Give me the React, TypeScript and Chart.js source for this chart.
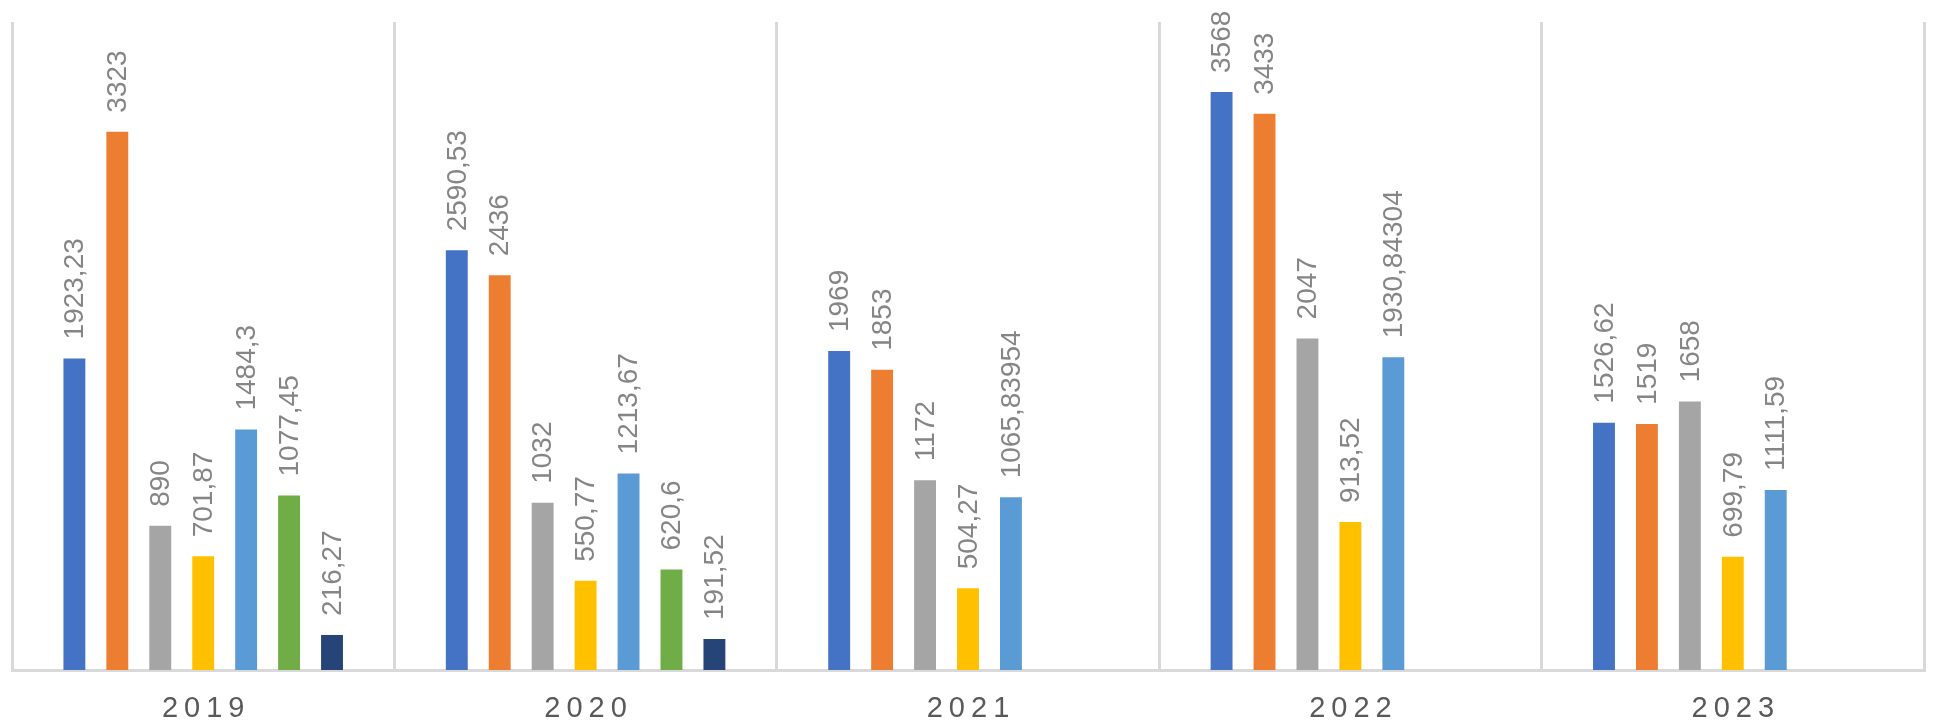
import React, { useEffect, useRef } from "react";
import { Chart, registerables } from "chart.js";

Chart.register(...registerables);

const categories = ["2019", "2020", "2021", "2022", "2023"];
const series1 = [1923.23, 2590.53, 1969, 3568, 1526.62];
const series2 = [3323, 2436, 1853, 3433, 1519];
const series3 = [890, 1032, 1172, 2047, 1658];
const series4 = [701.87, 550.77, 504.27, 913.52, 699.79];
const series5 = [1484.3, 1213.67, 1065.83954, 1930.84304, 1111.59];
const series6 = [1077.45, 620.6, null, null, null];
const series7 = [216.27, 191.52, null, null, null];
const yMax = 4000;

const colors = ["#4472C4", "#ED7D31", "#A5A5A5", "#FFC000", "#5B9BD5", "#70AD47", "#264478"];

const fmt = (v: number) => String(v).replace(".", ",");

const labelPlugin = {
  id: "customLabels",
  afterDatasetsDraw(chart: any) {
    const ctx = chart.ctx;
    ctx.save();
    ctx.font = "28px 'Liberation Sans'";
    ctx.fillStyle = "#858585";
    ctx.textAlign = "left";
    ctx.textBaseline = "middle";
    chart.data.datasets.forEach((ds: any, di: number) => {
      const meta = chart.getDatasetMeta(di);
      meta.data.forEach((el: any, i: number) => {
        const v = ds.data[i];
        if (v === null || v === undefined) return;
        ctx.save();
        ctx.translate(el.x, el.y - 19);
        ctx.rotate(-Math.PI / 2);
        ctx.fillText(fmt(v), 0, 1);
        ctx.restore();
      });
    });
    // category labels
    const xs = chart.scales.x;
    ctx.font = "29px 'Liberation Sans'";
    ctx.fillStyle = "#595959";
    ctx.textAlign = "center";
    ctx.textBaseline = "middle";
    const sp = 6;
    (ctx as any).letterSpacing = sp + "px";
    categories.forEach((c, i) => {
      const x = xs.getPixelForValue(i);
      ctx.fillText(c, x + sp / 2, 709);
    });
    ctx.restore();
  },
};

export default function App() {
  const ref = useRef<HTMLCanvasElement | null>(null);
  useEffect(() => {
    document.body.style.margin = "0";
    const seriesList = [series1, series2, series3, series4, series5, series6, series7];
    const chart = new Chart(ref.current as HTMLCanvasElement, {
      type: "bar",
      data: {
        labels: categories,
        datasets: seriesList.map((s, i) => ({
          label: "S" + (i + 1),
          data: s as any,
          backgroundColor: colors[i],
          borderWidth: 0,
          barPercentage: 0.51,
          categoryPercentage: 0.786,
        })),
      },
      options: {
        animation: false,
        responsive: false,
        maintainAspectRatio: false,
        devicePixelRatio: 1,
        layout: { padding: { left: 12, right: 15, top: 22, bottom: 53 } },
        plugins: { legend: { display: false }, tooltip: { enabled: false }, title: { display: false } },
        scales: {
          x: {
            display: true,
            ticks: { display: false },
            grid: { display: true, color: "#D9D9D9", lineWidth: 3, drawTicks: false, offset: true },
            border: { display: true, color: "#D9D9D9", width: 3 },
          },
          y: {
            display: false,
            min: 0,
            max: yMax,
          },
        },
      },
      plugins: [labelPlugin],
    });
    return () => chart.destroy();
  }, []);
  return (
    <div style={{ width: 1939, height: 723, background: "#fff" }}>
      <canvas ref={ref} width={1939} height={723} style={{ display: "block" }} />
    </div>
  );
}
